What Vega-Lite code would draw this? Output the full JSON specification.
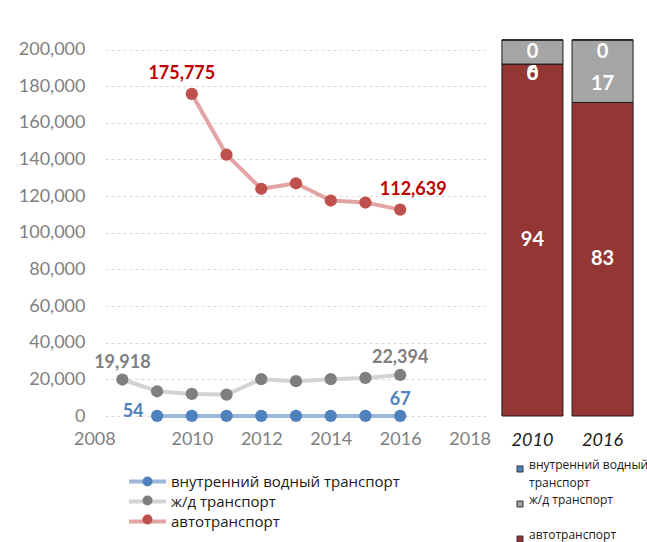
{
  "$schema": "https://vega.github.io/schema/vega-lite/v6.json",
  "padding": {"left": 18, "top": 39, "right": 5, "bottom": 0},
  "bounds": "flush",
  "spacing": 11,
  "config": {"view": {"stroke": null}, "font": "Lato", "style": {"guide-label": {"lineHeight": 17.5}}},
  "resolve": {"scale": {"fill": "independent", "stroke": "independent"}, "legend": {"fill": "independent", "stroke": "independent"}},
  "datasets": {
    "lines": [
      {"series": "внутренний водный транспорт", "year": 2009, "value": 54},
      {"series": "внутренний водный транспорт", "year": 2010, "value": 60},
      {"series": "внутренний водный транспорт", "year": 2011, "value": 58},
      {"series": "внутренний водный транспорт", "year": 2012, "value": 55},
      {"series": "внутренний водный транспорт", "year": 2013, "value": 57},
      {"series": "внутренний водный транспорт", "year": 2014, "value": 60},
      {"series": "внутренний водный транспорт", "year": 2015, "value": 63},
      {"series": "внутренний водный транспорт", "year": 2016, "value": 67},
      {"series": "ж/д транспорт", "year": 2008, "value": 19918},
      {"series": "ж/д транспорт", "year": 2009, "value": 13500},
      {"series": "ж/д транспорт", "year": 2010, "value": 12050},
      {"series": "ж/д транспорт", "year": 2011, "value": 11700},
      {"series": "ж/д транспорт", "year": 2012, "value": 20100},
      {"series": "ж/д транспорт", "year": 2013, "value": 19000},
      {"series": "ж/д транспорт", "year": 2014, "value": 20100},
      {"series": "ж/д транспорт", "year": 2015, "value": 20800},
      {"series": "ж/д транспорт", "year": 2016, "value": 22394},
      {"series": "автотранспорт", "year": 2010, "value": 175775},
      {"series": "автотранспорт", "year": 2011, "value": 142600},
      {"series": "автотранспорт", "year": 2012, "value": 124000},
      {"series": "автотранспорт", "year": 2013, "value": 127000},
      {"series": "автотранспорт", "year": 2014, "value": 117600},
      {"series": "автотранспорт", "year": 2015, "value": 116500},
      {"series": "автотранспорт", "year": 2016, "value": 112639}
    ],
    "bars": [
      {"year": "2010", "series": "автотранспорт", "pct": 93.6},
      {"year": "2010", "series": "ж/д транспорт", "pct": 6.4},
      {"year": "2010", "series": "внутренний водный транспорт", "pct": 0.03},
      {"year": "2016", "series": "автотранспорт", "pct": 83.4},
      {"year": "2016", "series": "ж/д транспорт", "pct": 16.6},
      {"year": "2016", "series": "внутренний водный транспорт", "pct": 0.05}
    ]
  },
  "hconcat": [
    {
      "width": 382,
      "height": 376,
      "data": {"name": "lines"},
      "encoding": {
        "x": {
          "field": "year", "type": "quantitative",
          "scale": {"domain": [2007.5, 2018.5], "nice": false, "zero": false},
          "axis": {
            "values": [2008, 2010, 2012, 2014, 2016, 2018], "format": "d",
            "grid": false, "domain": false, "ticks": false, "title": null,
            "labelPadding": 14, "labelColor": "#7F7F7F", "labelFontSize": 18,
            "labelOffset": {"condition": {"test": "datum.value == 2008", "value": -28}, "value": 0}
          }
        },
        "y": {
          "field": "value", "type": "quantitative",
          "scale": {"domain": [0, 205200], "nice": false},
          "axis": {
            "values": [0, 20000, 40000, 60000, 80000, 100000, 120000, 140000, 160000, 180000, 200000],
            "format": ",d", "grid": true, "gridDash": [3, 3], "gridColor": "#D9D9D9",
            "domain": false, "ticks": false, "title": null,
            "labelPadding": 20, "labelColor": "#7F7F7F", "labelFontSize": 18
          }
        }
      },
      "layer": [
        {
          "mark": {"type": "line", "strokeWidth": 4},
          "encoding": {
            "stroke": {
              "field": "series", "type": "nominal",
              "scale": {"domain": ["внутренний водный транспорт", "ж/д транспорт", "автотранспорт"], "range": ["#9DB8DC", "#D3D3D3", "#E3A4A3"]},
              "legend": {
                "orient": "none", "legendX": 35, "legendY": 434, "title": null,
                "symbolType": "M-6,0H6", "symbolSize": 38, "symbolStrokeWidth": 4,
                "labelFont": "Open Sans", "labelFontSize": 15, "labelColor": "#1a1a1a",
                "labelOffset": 16, "rowPadding": 3, "labelLimit": 400
              }
            }
          }
        },
        {
          "mark": {"type": "point", "filled": true, "size": 150, "opacity": 1},
          "encoding": {
            "fill": {
              "field": "series", "type": "nominal",
              "sort": ["внутренний водный транспорт", "ж/д транспорт", "автотранспорт"],
              "scale": {"range": ["#4F81BD", "#7F7F7F", "#C0504D"]},
              "legend": {
                "orient": "none", "legendX": 35, "legendY": 434, "title": null,
                "symbolType": "circle", "symbolSize": 100, "symbolOffset": 0, "symbolStrokeWidth": 0,
                "labelFont": "Open Sans", "labelFontSize": 15, "labelOpacity": 0, "labelExpr": "' '",
                "labelOffset": 16, "rowPadding": 3, "labelLimit": 400
              }
            }
          }
        },
        {
          "transform": [{"filter": "datum.series == 'автотранспорт' && datum.year == 2010"}],
          "mark": {"type": "text", "fontWeight": "bold", "fontSize": 18, "color": "#C00000", "dy": -20, "dx": -10},
          "encoding": {"text": {"field": "value", "type": "quantitative", "format": ","}}
        },
        {
          "transform": [{"filter": "datum.series == 'автотранспорт' && datum.year == 2016"}],
          "mark": {"type": "text", "fontWeight": "bold", "fontSize": 18, "color": "#C00000", "dy": -20, "dx": 13},
          "encoding": {"text": {"field": "value", "type": "quantitative", "format": ","}}
        },
        {
          "transform": [{"filter": "datum.series == 'ж/д транспорт' && (datum.year == 2008 || datum.year == 2016)"}],
          "mark": {"type": "text", "fontWeight": "bold", "fontSize": 18, "color": "#7F7F7F", "dy": -17},
          "encoding": {"text": {"field": "value", "type": "quantitative", "format": ","}}
        },
        {
          "transform": [{"filter": "datum.series == 'внутренний водный транспорт' && datum.year == 2009"}],
          "mark": {"type": "text", "fontWeight": "bold", "fontSize": 18, "color": "#4F81BD", "dy": -4, "dx": -24},
          "encoding": {"text": {"field": "value", "type": "quantitative", "format": ","}}
        },
        {
          "transform": [{"filter": "datum.series == 'внутренний водный транспорт' && datum.year == 2016"}],
          "mark": {"type": "text", "fontWeight": "bold", "fontSize": 18, "color": "#4F81BD", "dy": -16},
          "encoding": {"text": {"field": "value", "type": "quantitative", "format": ","}}
        }
      ]
    },
    {
      "width": 139,
      "height": 376,
      "data": {"name": "bars"},
      "transform": [
        {"stack": "pct", "groupby": ["year"], "sort": [{"field": "pct", "order": "descending"}], "as": ["p0", "p1"]},
        {"calculate": "(datum.p0 + datum.p1) / 2", "as": "pmid"}
      ],
      "encoding": {
        "x": {
          "field": "year", "type": "nominal",
          "scale": {"paddingInner": 0.13, "paddingOuter": 0.056},
          "axis": {
            "domain": false, "ticks": false, "title": null, "labelAngle": 0,
            "labelFontStyle": "italic", "labelFontSize": 18, "labelColor": "#1a1a1a", "labelPadding": 15
          }
        }
      },
      "layer": [
        {
          "mark": {"type": "bar", "stroke": "#1a1a1a", "strokeWidth": 1},
          "encoding": {
            "y": {"field": "p0", "type": "quantitative", "scale": {"domain": [0, 100], "nice": false}, "axis": null},
            "y2": {"field": "p1"},
            "fill": {
              "field": "series", "type": "nominal",
              "scale": {"domain": ["внутренний водный транспорт", "ж/д транспорт", "автотранспорт"], "range": ["#4F81BD", "#A5A5A5", "#943634"]},
              "legend": {
                "orient": "none", "legendX": 16, "legendY": 423, "title": null,
                "symbolType": "square", "symbolSize": 36, "symbolStrokeColor": "#333333", "symbolStrokeWidth": 1,
                "labelFont": "Open Sans", "labelFontSize": 12, "labelColor": "#1a1a1a", "labelOffset": 3,
                "labelBaseline": "alphabetic", "rowPadding": 5, "labelLimit": 200,
                "labelExpr": "datum.label == 'внутренний водный транспорт' ? ['внутренний водный', 'транспорт'] : datum.label == 'ж/д транспорт' ? ['ж/д транспорт', ' '] : datum.label"
              }
            }
          }
        },
        {
          "transform": [{"filter": "datum.series == 'автотранспорт'"}],
          "mark": {"type": "text", "color": "white", "fontWeight": "bold", "fontSize": 20},
          "encoding": {
            "y": {"field": "pmid", "type": "quantitative"},
            "text": {"field": "pct", "type": "quantitative", "format": ".0f"}
          }
        },
        {
          "transform": [{"filter": "datum.series == 'ж/д транспорт' && datum.year == '2010'"}],
          "mark": {"type": "text", "color": "white", "fontWeight": "bold", "fontSize": 20, "dy": 22},
          "encoding": {
            "y": {"field": "pmid", "type": "quantitative"},
            "text": {"field": "pct", "type": "quantitative", "format": ".0f"}
          }
        },
        {
          "transform": [{"filter": "datum.series == 'ж/д транспорт' && datum.year == '2016'"}],
          "mark": {"type": "text", "color": "white", "fontWeight": "bold", "fontSize": 20, "dy": 13},
          "encoding": {
            "y": {"field": "pmid", "type": "quantitative"},
            "text": {"field": "pct", "type": "quantitative", "format": ".0f"}
          }
        },
        {
          "transform": [{"filter": "datum.series == 'внутренний водный транспорт'"}],
          "mark": {"type": "text", "color": "white", "fontWeight": "bold", "fontSize": 20, "dy": 12},
          "encoding": {
            "y": {"field": "p1", "type": "quantitative"},
            "text": {"field": "pct", "type": "quantitative", "format": ".0f"}
          }
        },
        {
          "transform": [{"filter": "datum.series == 'внутренний водный транспорт' && datum.year == '2010'"}],
          "mark": {"type": "text", "color": "white", "fontWeight": "bold", "fontSize": 20, "dy": 34},
          "encoding": {
            "y": {"field": "p1", "type": "quantitative"},
            "text": {"field": "pct", "type": "quantitative", "format": ".0f"}
          }
        }
      ]
    }
  ]
}
